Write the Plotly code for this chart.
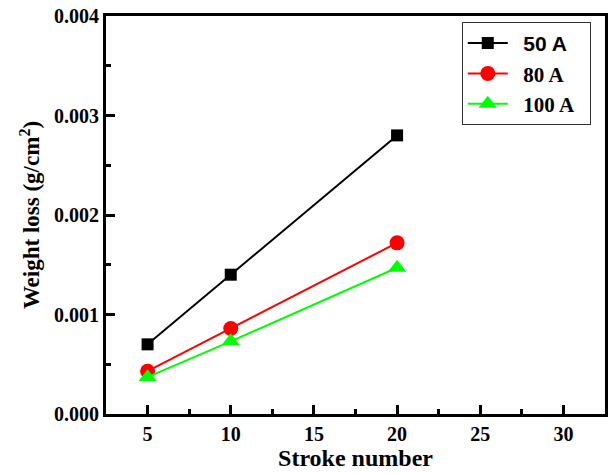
import plotly.graph_objects as go

strokes = [5, 10, 20]
loss_50A = [0.00070, 0.00140, 0.00280]
loss_80A = [0.00043, 0.00086, 0.00172]
loss_100A = [0.00037, 0.00073, 0.00147]

series = [
    ('<span style="font-family:Liberation Sans">50 A</span>', loss_50A, "black", "square", 12),
    ("80 A", loss_80A, "red", "circle", 15),
    ("100 A", loss_100A, "#00ff00", "triangle-up", 16),
]

fig = go.Figure()
for name, vals, col, sym, sz in series:
    fig.add_trace(go.Scatter(
        x=strokes, y=vals, name="&nbsp;&nbsp;<b>" + name + "</b>&nbsp;&nbsp;", mode="lines+markers",
        line=dict(color=col, width=2),
        marker=dict(color=col, symbol=sym, size=sz),
    ))

axis_common = dict(
    showline=True, linecolor="black", linewidth=3, mirror=True,
    ticks="inside", ticklen=9, tickwidth=3, tickcolor="black",
    showgrid=False, zeroline=False,
    tickfont=dict(family="Liberation Serif", size=20, color="black"),
)

fig.update_xaxes(
    range=[2.5, 32.5], dtick=5, tick0=0, tickprefix="<b>", ticksuffix="</b>",
    minor=dict(ticks="inside", ticklen=5, tickwidth=3, tickcolor="black", dtick=2.5),
    title=dict(text="<b>Stroke number</b>", font=dict(family="Liberation Serif", size=24, color="black"), standoff=3),
    **axis_common,
)
fig.update_yaxes(
    range=[0, 0.004], dtick=0.001, tick0=0, tickformat=".3f", tickprefix="<b>", ticksuffix="</b>",
    minor=dict(ticks="inside", ticklen=5, tickwidth=3, tickcolor="black", dtick=0.0005),
    title=dict(text="<b>Weight loss (g/cm<sup>2</sup>)</b>", font=dict(family="Liberation Serif", size=23, color="black"), standoff=8),
    **axis_common,
)

fig.update_layout(
    width=613, height=473,
    margin=dict(l=106, r=5, t=15, b=59),
    plot_bgcolor="white", paper_bgcolor="white",
    legend=dict(
        x=0.713, y=0.985, xanchor="left", yanchor="top",
        bordercolor="#333333", borderwidth=1, bgcolor="white",
        font=dict(family="Liberation Serif", size=21, color="black"),
        tracegroupgap=0, itemwidth=40,
    ),
    showlegend=True,
)

fig.write_html("out.html")
